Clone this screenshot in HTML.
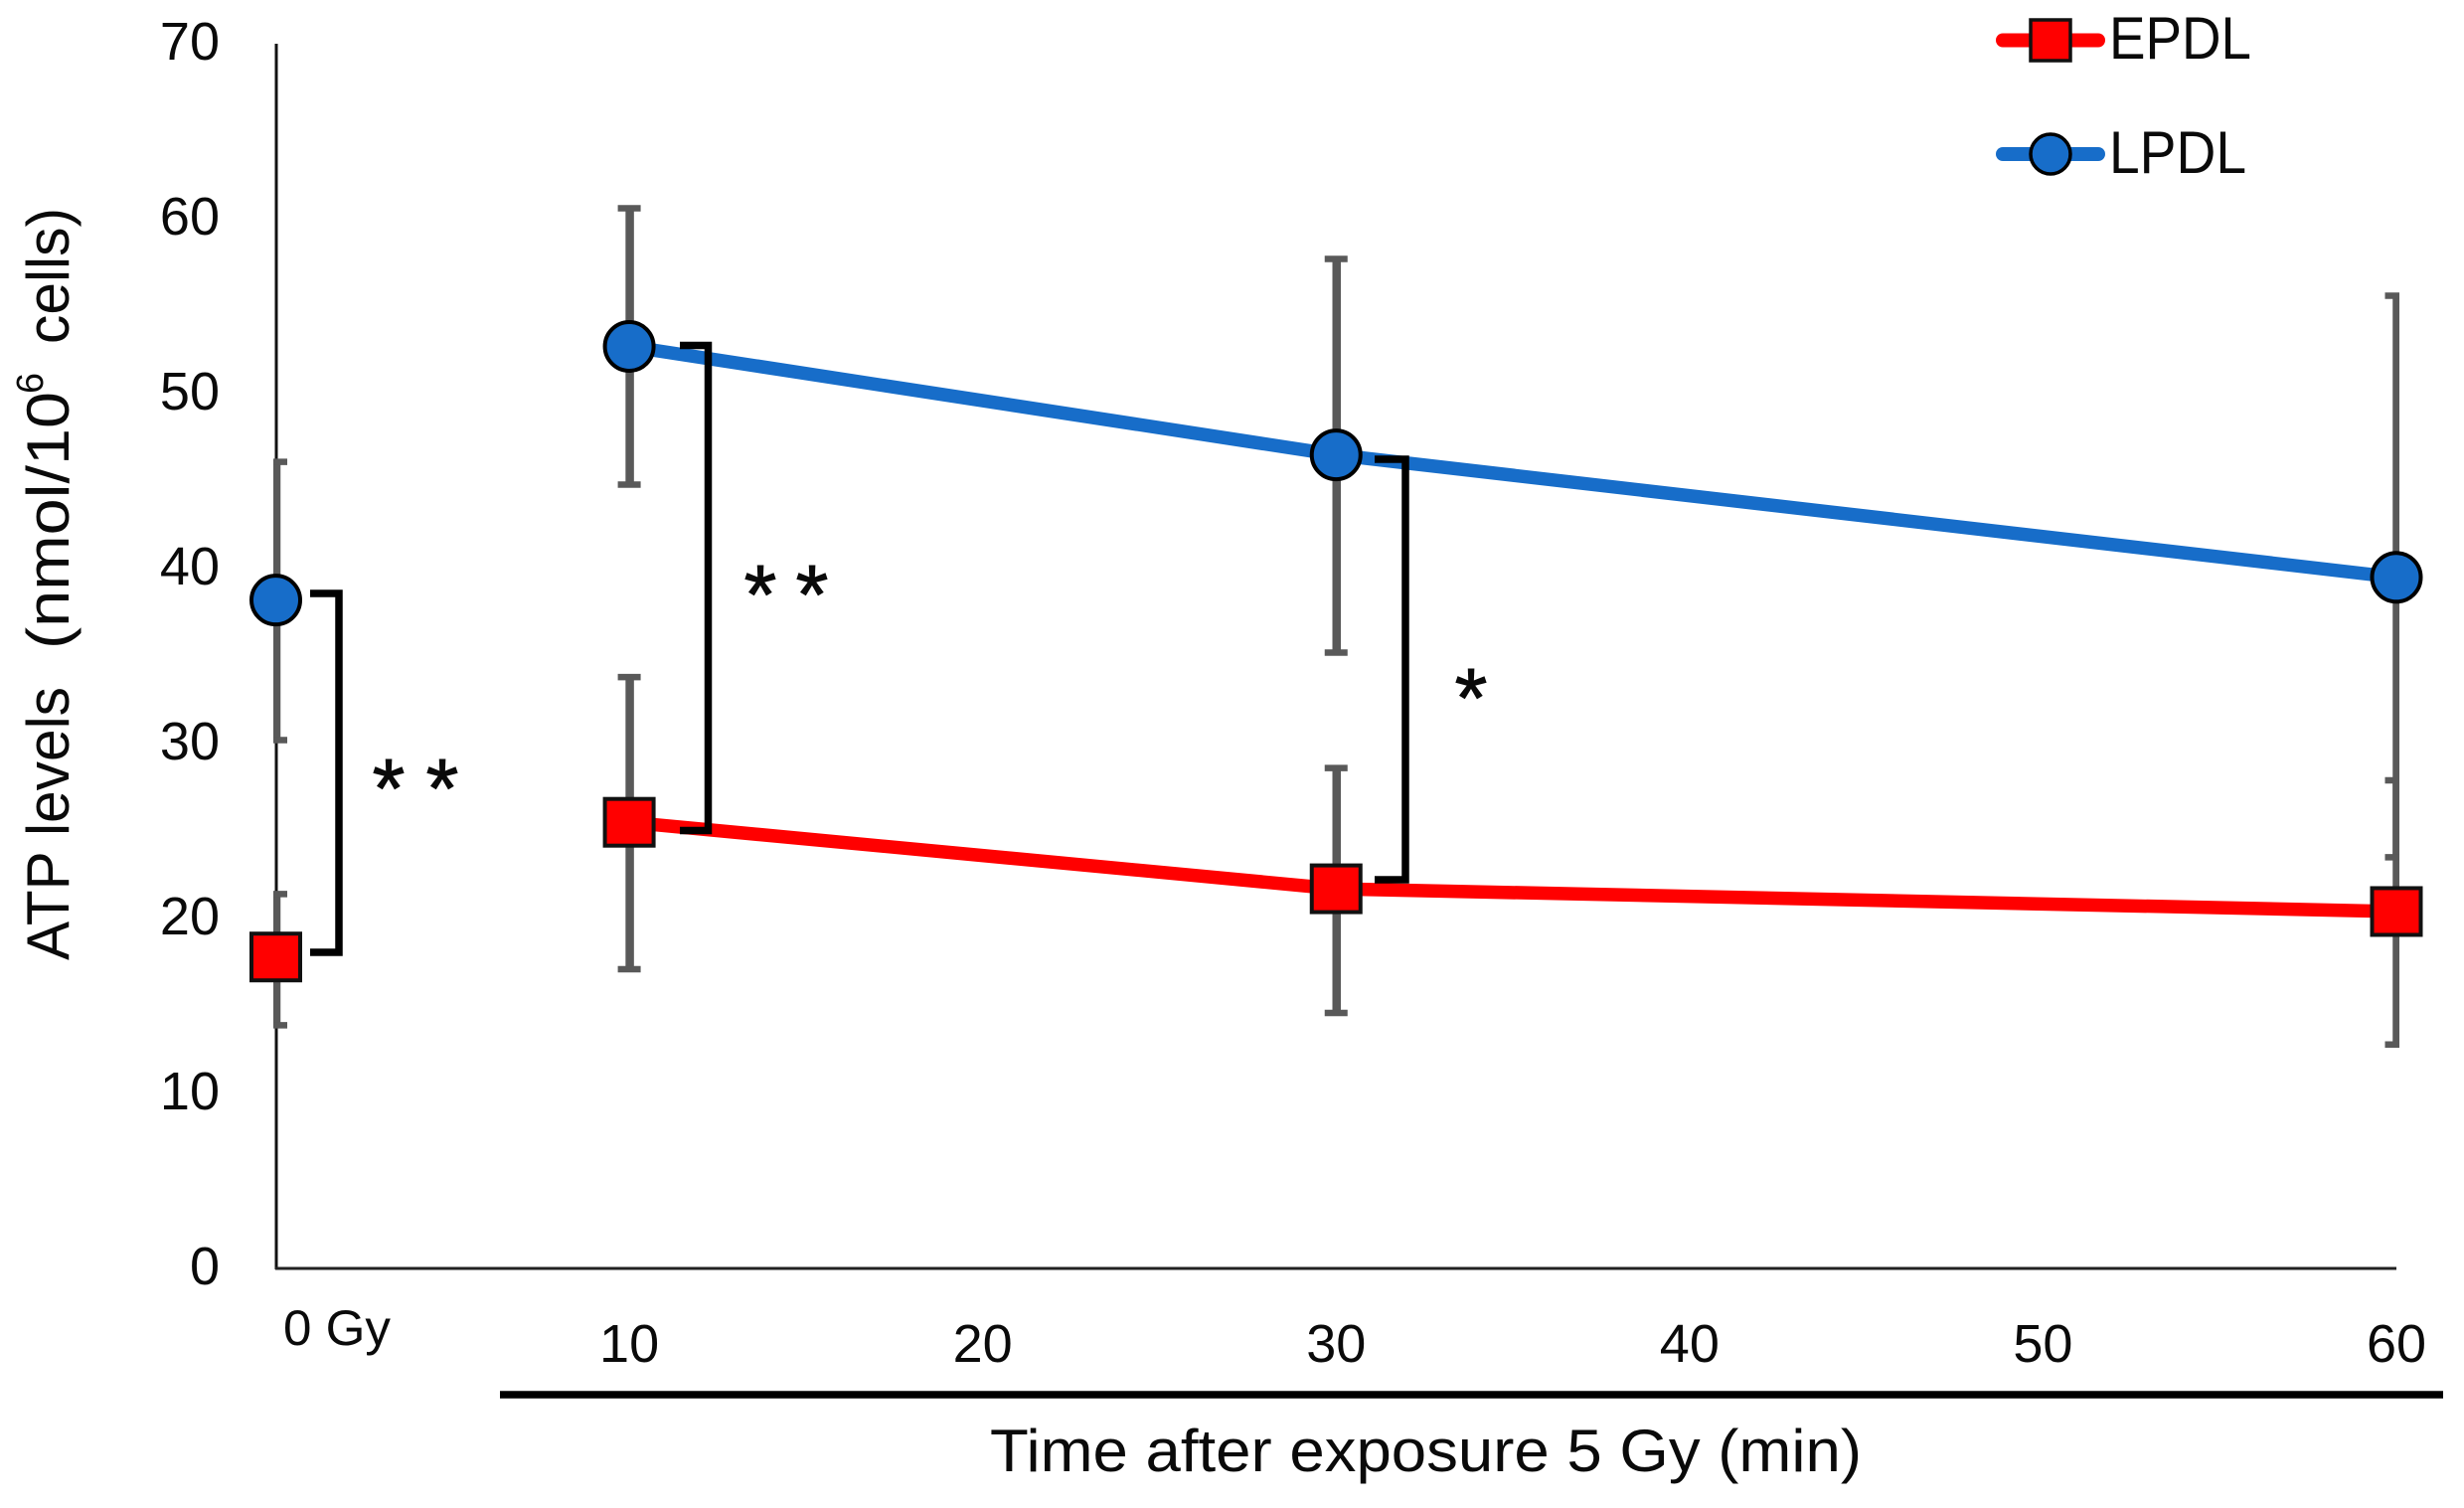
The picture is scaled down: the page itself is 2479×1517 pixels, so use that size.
<!DOCTYPE html>
<html lang="en">
<head>
<meta charset="utf-8">
<title>ATP levels after exposure</title>
<style>
  html, body { margin: 0; padding: 0; background: #fff; }
  svg { display: block; font-family: "Liberation Sans", sans-serif; fill: #0a0a0a; }
</style>
</head>
<body>
<svg id="chart" xmlns="http://www.w3.org/2000/svg" width="2479" height="1517" viewBox="0 0 2479 1517">
  <defs>
    <clipPath id="plot-clip"><rect x="275" y="0" width="2139" height="1517"/></clipPath>
  </defs>
  <rect width="2479" height="1517" fill="#ffffff"/>

  <g font-size="60">
    <text transform="translate(69 966) rotate(-90)" textLength="275" lengthAdjust="spacingAndGlyphs">ATP levels</text>
    <text transform="translate(69 653) rotate(-90)" textLength="259" lengthAdjust="spacingAndGlyphs">(nmol/10</text>
    <text transform="translate(43 396) rotate(-90)" font-size="38" textLength="21" lengthAdjust="spacingAndGlyphs">6</text>
    <text transform="translate(69 346) rotate(-90)" textLength="137" lengthAdjust="spacingAndGlyphs">cells)</text>
  </g>

  <g id="y-ticks"></g>
  <g id="x-ticks"></g>

  <text x="285" y="1353" font-size="50" textLength="108" lengthAdjust="spacingAndGlyphs">0 Gy</text>

  <line x1="278" y1="44" x2="278" y2="1277" stroke="#111" stroke-width="3"/>
  <line x1="277" y1="1276" x2="2411" y2="1276" stroke="#222" stroke-width="3"/>

  <g id="error-bars" clip-path="url(#plot-clip)"></g>
  <g id="series-lines"></g>
  <g id="series-markers"></g>

  <path d="M312 597H341V958H312" fill="none" stroke="#000" stroke-width="7.500"/>
  <path d="M684 347.500H712.500V835.500H684" fill="none" stroke="#000" stroke-width="7.500"/>
  <path d="M1383 462H1414V885H1383" fill="none" stroke="#000" stroke-width="7.500"/>

  <text x="418" y="822" font-size="84" text-anchor="middle" xml:space="preserve" stroke="#0a0a0a" stroke-width="1" word-spacing="-2">* *</text>
  <text x="791" y="627" font-size="84" text-anchor="middle" xml:space="preserve" stroke="#0a0a0a" stroke-width="1" word-spacing="-4">* *</text>
  <text x="1480" y="731" font-size="84" text-anchor="middle" stroke="#0a0a0a" stroke-width="1">*</text>

  <line x1="503" y1="1403" x2="2458" y2="1403" stroke="#000" stroke-width="7.500"/>
  <text x="996" y="1480" font-size="60" textLength="877" lengthAdjust="spacingAndGlyphs">Time after exposure 5 Gy (min)</text>

  <g>
    <g>
      <line x1="2015" y1="40.500" x2="2111" y2="40.500" stroke="#ff0000" stroke-width="14" stroke-linecap="round"/>
      <rect x="2043" y="20" width="40" height="41" fill="#ff0000" stroke="#111" stroke-width="3.500"/>
      <text x="2122" y="59" font-size="60" textLength="143" lengthAdjust="spacingAndGlyphs">EPDL</text>
    </g>
    <g>
      <line x1="2015" y1="155" x2="2111" y2="155" stroke="#176dc9" stroke-width="14" stroke-linecap="round"/>
      <ellipse cx="2063" cy="155" rx="20" ry="20" fill="#176dc9" stroke="#000" stroke-width="3.500"/>
      <text x="2122" y="174" font-size="60" textLength="138" lengthAdjust="spacingAndGlyphs">LPDL</text>
    </g>
  </g>
</svg>

<script>
const times = [0, 10, 30, 60];
const epdlMeans = [17.8, 25.5, 21.7, 20.4];
const epdlUpper = [21.4, 33.8, 28.6, 27.9];
const epdlLower = [13.9, 17.1, 14.6, 12.8];
const lpdlMeans = [38.2, 52.7, 46.5, 39.5];
const lpdlUpper = [46.1, 60.6, 57.7, 55.6];
const lpdlLower = [30.2, 44.8, 35.2, 23.5];
const yTickValues = [0, 10, 20, 30, 40, 50, 60, 70];
const xTickValues = [10, 20, 30, 40, 50, 60];

const SVG_NS = 'http://www.w3.org/2000/svg';

function xScale(t) {
  return 277.5 + (2411 - 277.5) * t / 60;
}
function yScale(v) {
  return 1276 - (1276 - 44) * v / 70;
}
function make(tag, parent, attrs) {
  const el = document.createElementNS(SVG_NS, tag);
  Object.keys(attrs).forEach(function (k) { el.setAttribute(k, attrs[k]); });
  parent.appendChild(el);
  return el;
}

const yTicksGroup = document.getElementById('y-ticks');
yTickValues.forEach(function (v) {
  const el = make('text', yTicksGroup, { x: 221, y: yScale(v) + 16, 'font-size': 54, 'text-anchor': 'end' });
  
  
  el.textContent = String(v);
});

const xTicksGroup = document.getElementById('x-ticks');
xTickValues.forEach(function (t) {
  const el = make('text', xTicksGroup, { x: xScale(t) + 0, y: 1370, 'font-size': 54, 'text-anchor': 'middle' });
  
  
  el.textContent = String(t);
});

function drawErrorBars(upper, lower) {
  const group = document.getElementById('error-bars');
  times.forEach(function (t, i) {
    const x = xScale(t);
    const stem = make('line', group, { x1: x + 0.5, x2: x + 0.5, y1: yScale(upper[i]), y2: yScale(lower[i]), stroke: '#595959', 'stroke-width': 8.5 });
    
    
    [upper[i], lower[i]].forEach(function (v) {
      const cap = make('line', group, { x1: x - 11.5, x2: x + 11.5, y1: yScale(v), y2: yScale(v), stroke: '#595959', 'stroke-width': 6.5 });
      
      
    });
  });
}
drawErrorBars(epdlUpper, epdlLower);
drawErrorBars(lpdlUpper, lpdlLower);

function drawLine(means, color, name) {
  const group = document.getElementById('series-lines');
  const pts = times.map(function (t, i) { return xScale(t) + ',' + yScale(means[i]); }).slice(1).join(' ');
  const el = make('polyline', group, { points: pts, fill: 'none', stroke: color, 'stroke-width': 13.5 });
  
  
}
drawLine(epdlMeans, '#ff0000', 'epdl-line');
drawLine(lpdlMeans, '#176dc9', 'lpdl-line');

const markersGroup = document.getElementById('series-markers');
times.forEach(function (t, i) {
  const x = xScale(t);
  const square = make('rect', markersGroup, { x: x - 24.5, y: yScale(epdlMeans[i]) - 23.5, width: 49, height: 47, fill: '#ff0000', stroke: '#111', 'stroke-width': 4 });
  
  
  const circle = make('circle', markersGroup, { cx: x, cy: yScale(lpdlMeans[i]), r: 24.5, fill: '#176dc9', stroke: '#000', 'stroke-width': 4 });
  
  
});
</script>
</body>
</html>
